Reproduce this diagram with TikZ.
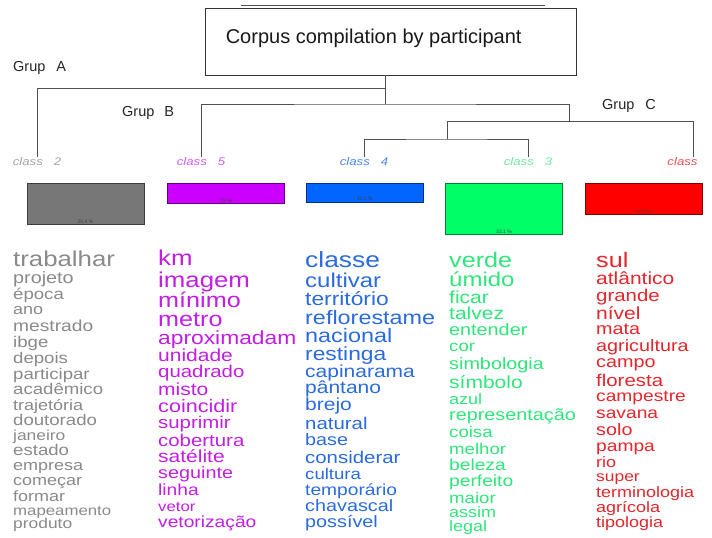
\documentclass[tikz,border=0pt]{standalone}
\usepackage{fontspec}
\setmainfont{Liberation Sans}
\newfontfamily\wordfont[FakeStretch=1.2]{Liberation Sans}
\usepackage{xcolor}
\definecolor{dendroLine}{HTML}{505050}
\definecolor{grayText}{HTML}{8A8A8A}
\definecolor{magText}{HTML}{C21EE4}
\definecolor{blueText}{HTML}{2A6BE0}
\definecolor{greenText}{HTML}{2EE67A}
\definecolor{redText}{HTML}{E5262C}
\definecolor{grayCls}{HTML}{A4A4A4}
\definecolor{magCls}{HTML}{D25CF0}
\definecolor{blueCls}{HTML}{4A88EE}
\definecolor{greenCls}{HTML}{70EAA4}
\definecolor{redCls}{HTML}{F0505A}
\definecolor{grayFill}{HTML}{777777}
\definecolor{magFill}{HTML}{CC00FF}
\definecolor{blueFill}{HTML}{0066FF}
\definecolor{greenFill}{HTML}{00FF66}
\definecolor{redFill}{HTML}{FF0000}
\usepackage{tikz}
\usetikzlibrary{positioning, calc}

\begin{document}
\begin{tikzpicture}[
    x=1pt, y=-1pt,
    titlebox/.style={draw=black!80, line width=0.8pt, rectangle, minimum width=371pt, minimum height=67pt, inner sep=0pt},
    titletext/.style={font=\fontsize{20}{20}\selectfont, text=black!90, inner sep=0pt},
    grplabel/.style={font=\fontsize{14.5}{14.5}\selectfont, text=black!85, inner sep=0pt, anchor=west},
    clslabel/.style={font=\wordfont\itshape\fontsize{11}{11}\selectfont, inner sep=1pt},
    barbox/.style={draw=#1!50!black, fill=#1, line width=0.9pt, rectangle, minimum width=117pt, inner sep=0pt, anchor=north},
    pctlabel/.style={font=\fontsize{5}{5}\selectfont, text=black!75, inner sep=0.5pt},
    dendro/.style={draw=dendroLine, line width=0.9pt},
    word/.style={inner sep=0pt, anchor=base west}
]
\fill [white] (0,0) rectangle (712,538);
\useasboundingbox (0,0) rectangle (712,538);

% title box
\node (titlebox) [titlebox] at (390.5,41.5) {};
\node (title) [titletext, right=21pt of titlebox.west, anchor=west, yshift=3.5pt] {Corpus compilation by participant};
\draw [dendro, line width=0.7pt] ([xshift=36pt,yshift=2pt]titlebox.north west) -- ([xshift=-31pt,yshift=2pt]titlebox.north east);

% group labels
\node (grpA) [grplabel] at (13,68) {Grup\hspace{11pt}A};
\node (grpB) [grplabel] at (122,113) {Grup\hspace{10pt}B};
\node (grpC) [grplabel] at (602,106) {Grup\hspace{11pt}C};

% class labels
\node (cls2) [clslabel, text=grayCls] at (37,162) {class\hspace{11pt}2};
\node (cls5) [clslabel, text=magCls] at (201,162) {class\hspace{11pt}5};
\node (cls4) [clslabel, text=blueCls] at (364,162) {class\hspace{11pt}4};
\node (cls3) [clslabel, text=greenCls] at (528,162) {class\hspace{11pt}3};
\node (cls6) [clslabel, text=redCls] at (682.5,162) {class};
\coordinate (top6) at (693,157);

% dendrogram joints
\coordinate (root) at (385,75);
\coordinate (jA) at (385,88);
\coordinate (jB) at (385,104);
\coordinate (jC) at (569,121);
\coordinate (jD) at (447,139);

\draw [dendro] (root) -- (jA);
\draw [dendro] (cls2.north) |- (jA);
\draw [dendro] (jA) -- (jB);
\draw [dendro] (cls5.north) |- (jB) -| (jC);
\draw [dendro] (jC) -| (top6);
\draw [dendro] (jC) -| (jD);
\draw [dendro] (cls4.north) |- (jD) -| (cls3.north);

% bars, height ~ share of the corpus
\node (bar2) [barbox=grayFill, minimum height=41pt] at (85.5,183) {};
\node (bar5) [barbox=magFill, minimum height=20pt] at (226,183) {};
\node (bar4) [barbox=blueFill, minimum height=18.5pt] at (365,183) {};
\node (bar3) [barbox=greenFill, minimum height=51pt] at (504,183) {};
\node (bar6) [barbox=redFill, minimum height=31pt] at (644,183) {};

\node (pct2) [pctlabel, above=0.8pt of bar2.south] {25.4 \%};
\node (pct5) [pctlabel, above=0.8pt of bar5.south] {12 \%};
\node (pct4) [pctlabel, above=0.8pt of bar4.south] {11.2 \%};
\node (pct3) [pctlabel, above=0.8pt of bar3.south] {32.1 \%};
\node (pct6) [pctlabel, above=0.8pt of bar6.south] {19.3 \%};

% word lists (word/size/centre y)
\foreach \w/\s/\y [count=\i] in {trabalhar/21.5/260.5, projeto/16.5/279, época/15.5/295, ano/15/310, mestrado/16/327, ibge/15.5/343, depois/15.5/359, participar/15.5/374.5, acadêmico/15.5/390, trajetória/15/405.5, doutorado/15.5/421, janeiro/14.5/436, estado/15.5/451, empresa/15/466, começar/15/481, formar/15/497, mapeamento/14/511, produto/14.5/524.5}
    \node (c2w\i) [word, text=grayText, font=\wordfont\fontsize{\s}{\s}\selectfont] at (13,{\y+0.3*\s}) {\w};

\foreach \w/\s/\y [count=\i] in {km/21.5/259.5, imagem/21.5/281, mínimo/21/301, metro/21/320, aproximadam/19/338.5, unidade/17.5/356.5, quadrado/17/372.5, misto/17.5/390, coincidir/18/407, suprimir/17/423.5, cobertura/17/441, satélite/17.5/457, seguinte/16.5/473.5, linha/16/491, vetor/14/507, vetorização/16/523}
    \node (c5w\i) [word, text=magText, font=\wordfont\fontsize{\s}{\s}\selectfont] at (158,{\y+0.3*\s}) {\w};

\foreach \w/\s/\y [count=\i] in {classe/22/261, cultivar/20/281, território/19/300, reflorestame/19.5/319, nacional/19.5/337, restinga/19/354.5, capinarama/17.5/372, pântano/17.5/388.5, brejo/17.5/405, natural/17/424, base/16.5/441, considerar/17/458, cultura/15.5/475, temporário/16/490.5, chavascal/16.5/507, possível/16.5/523}
    \node (c4w\i) [word, text=blueText, font=\wordfont\fontsize{\s}{\s}\selectfont] at (305,{\y+0.3*\s}) {\w};

\foreach \w/\s/\y [count=\i] in {verde/21/261, úmido/20/280, ficar/17.5/298, talvez/17.5/314.5, entender/16.5/331, cor/15.5/347, simbologia/16.5/365, símbolo/17.5/383, azul/15/400, representação/16.5/416, coisa/15.5/433, melhor/15.5/450, beleza/16/466, perfeito/16/482, maior/15.5/499, assim/15/513, legal/15/527}
    \node (c3w\i) [word, text=greenText, font=\wordfont\fontsize{\s}{\s}\selectfont] at (449,{\y+0.3*\s}) {\w};

\foreach \w/\s/\y [count=\i] in {sul/21/261, atlântico/17.5/279, grande/17/296, nível/17.5/314, mata/16.5/330, agricultura/16.5/346.5, campo/16.5/363, floresta/17/381, campestre/16/397, savana/16/414, solo/16.5/431, pampa/16/446.5, rio/15/463, super/14.5/477, terminologia/15/493, agrícola/15/508, tipologia/15/523}
    \node (c6w\i) [word, text=redText, font=\wordfont\fontsize{\s}{\s}\selectfont] at (596,{\y+0.3*\s}) {\w};

\end{tikzpicture}
\end{document}
